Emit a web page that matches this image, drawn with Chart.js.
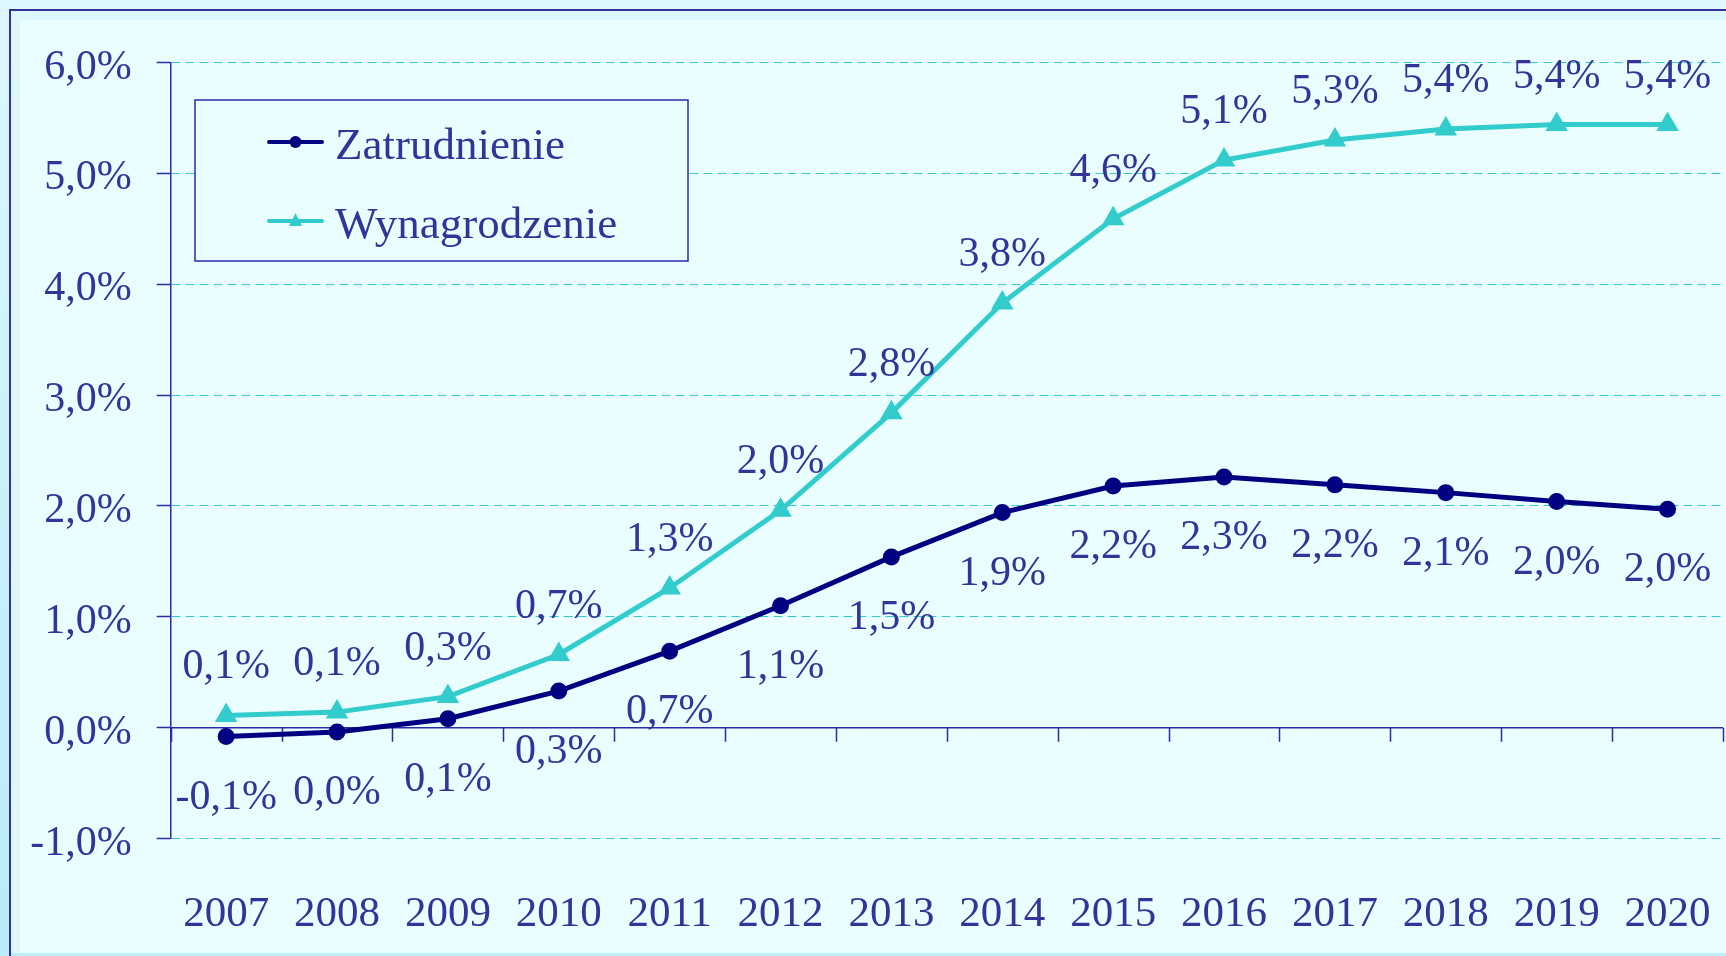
<!DOCTYPE html>
<html>
<head>
<meta charset="utf-8">
<script src="https://cdn.jsdelivr.net/npm/chart.js@4.4.1/dist/chart.umd.min.js"></script>
<style>
  html, body { margin: 0; padding: 0; background: #DDF7FC; }
  #wrap { width: 1726px; height: 956px; position: relative; }
  canvas { display: block; }
</style>
</head>
<body>
<div id="wrap"><canvas id="c" width="1726" height="956"></canvas></div>
<script>
const years = ['2007','2008','2009','2010','2011','2012','2013','2014','2015','2016','2017','2018','2019','2020'];
const zatrudnienie = [-0.08, -0.04, 0.08, 0.33, 0.69, 1.10, 1.54, 1.94, 2.18, 2.26, 2.19, 2.12, 2.04, 1.97];
const wynagrodzenie = [0.11, 0.14, 0.28, 0.66, 1.26, 1.96, 2.84, 3.83, 4.59, 5.12, 5.30, 5.40, 5.44, 5.44];
const seriesNames = ['Zatrudnienie', 'Wynagrodzenie'];
const yMin = -1, yMax = 6, yStep = 1;

const TEXT = '#333399';
const AXIS = '#2B2BA8';
const NAVY = '#000080';
const TURQ = '#33CCCC';
const FONT = "'Liberation Serif', 'Times New Roman', serif";
const PLOT_RIGHT = 1723;

function fmt(v) {
  let r = Math.round(v * 10) / 10;
  if (r === 0) r = 0;
  return r.toFixed(1).replace('.', ',') + '%';
}

const areaPlugin = {
  id: 'areaFix',
  afterLayout(chart) {
    const x = chart.scales.x;
    chart.chartArea.right = PLOT_RIGHT;
    chart.chartArea.width = PLOT_RIGHT - chart.chartArea.left;
    x.right = PLOT_RIGHT;
    x.width = PLOT_RIGHT - x.left;
    x.configure();
  }
};

const framePlugin = {
  id: 'frame',
  beforeDraw(chart) {
    const ctx = chart.ctx, W = chart.width, H = chart.height;
    ctx.save();
    ctx.fillStyle = '#DDF7FC';
    ctx.fillRect(0, 0, W, H);
    const g = ctx.createLinearGradient(0, 0, 0, H);
    g.addColorStop(0, '#DDF7FC');
    g.addColorStop(1, '#B8EBF8');
    ctx.fillStyle = g;
    ctx.fillRect(0, 0, 9, H);
    ctx.fillStyle = '#BDEDF8';
    ctx.fillRect(0, 953, W, H - 953);
    ctx.fillStyle = '#EAFEFF';
    ctx.fillRect(20, 20, W - 20, 933);
    ctx.strokeStyle = '#333399';
    ctx.lineWidth = 2;
    ctx.beginPath();
    ctx.moveTo(10, H);
    ctx.lineTo(10, 10);
    ctx.lineTo(W, 10);
    ctx.stroke();
    ctx.restore();
  }
};

const axisPlugin = {
  id: 'zeroAxis',
  beforeDatasetsDraw(chart) {
    const ctx = chart.ctx, x = chart.scales.x, y = chart.scales.y;
    const y0 = y.getPixelForValue(0);
    const n = chart.data.labels.length;
    const step = x.getPixelForValue(1) - x.getPixelForValue(0);
    const left = x.getPixelForValue(0) - step / 2;
    ctx.save();
    ctx.strokeStyle = AXIS;
    ctx.lineWidth = 1.5;
    ctx.beginPath();
    ctx.moveTo(chart.chartArea.left, y0);
    ctx.lineTo(chart.chartArea.right, y0);
    for (let i = 0; i <= n; i++) {
      const px = Math.round(left + i * step) + 0.5;
      ctx.moveTo(px, y0);
      ctx.lineTo(px, y0 + 14);
    }
    ctx.stroke();
    ctx.restore();
  }
};

const labelPlugin = {
  id: 'valueLabels',
  afterDatasetsDraw(chart) {
    const ctx = chart.ctx;
    ctx.save();
    ctx.font = '42px ' + FONT;
    ctx.fillStyle = TEXT;
    ctx.textAlign = 'center';
    ctx.textBaseline = 'middle';
    chart.data.datasets.forEach((ds, di) => {
      const meta = chart.getDatasetMeta(di);
      meta.data.forEach((pt, i) => {
        const off = ds.labelAbove ? -48 : 61;
        ctx.fillText(fmt(ds.data[i]), pt.x, pt.y + off);
      });
    });
    ctx.restore();
  }
};

const legendPlugin = {
  id: 'boxLegend',
  afterDraw(chart) {
    const ctx = chart.ctx;
    ctx.save();
    ctx.fillStyle = '#EBFEFF';
    ctx.fillRect(195, 100, 493, 161);
    ctx.strokeStyle = AXIS;
    ctx.lineWidth = 1.5;
    ctx.strokeRect(195, 100, 493, 161);
    const rows = [142, 221];
    chart.data.datasets.forEach((ds, di) => {
      const yy = rows[di];
      ctx.strokeStyle = ds.borderColor;
      ctx.lineWidth = 4;
      ctx.lineCap = 'round';
      ctx.beginPath();
      ctx.moveTo(269, yy);
      ctx.lineTo(322, yy);
      ctx.stroke();
      ctx.fillStyle = ds.borderColor;
      if (ds.pointStyle === 'triangle') {
        ctx.beginPath();
        ctx.moveTo(295.5, yy - 8);
        ctx.lineTo(302, yy + 5);
        ctx.lineTo(289, yy + 5);
        ctx.closePath();
        ctx.fill();
      } else {
        ctx.beginPath();
        ctx.arc(295.5, yy, 6, 0, Math.PI * 2);
        ctx.fill();
      }
      ctx.fillStyle = TEXT;
      ctx.font = '45px ' + FONT;
      ctx.textAlign = 'left';
      ctx.textBaseline = 'middle';
      ctx.fillText(ds.label, 335, yy + 5);
    });
    ctx.restore();
  }
};

new Chart(document.getElementById('c'), {
  type: 'line',
  data: {
    labels: years,
    datasets: [
      {
        label: seriesNames[0],
        data: zatrudnienie,
        borderColor: NAVY,
        backgroundColor: NAVY,
        borderWidth: 5,
        pointStyle: 'circle',
        pointRadius: 6,
        pointHoverRadius: 6,
        tension: 0,
        labelAbove: false
      },
      {
        label: seriesNames[1],
        data: wynagrodzenie,
        borderColor: TURQ,
        backgroundColor: TURQ,
        borderWidth: 5,
        pointStyle: 'triangle',
        pointRadius: 8,
        pointHoverRadius: 8,
        tension: 0,
        labelAbove: true
      }
    ]
  },
  options: {
    responsive: false,
    animation: false,
    events: [],
    layout: { padding: { left: 0, top: 62.5, right: 3, bottom: 0 } },
    plugins: { legend: { display: false }, tooltip: { enabled: false } },
    scales: {
      x: {
        type: 'category',
        offset: true,
        grid: { display: false, drawTicks: false },
        border: { display: false },
        ticks: { color: TEXT, font: { family: FONT, size: 43 }, padding: 50, maxRotation: 0, autoSkip: false },
        afterFit(s) { s.height = 956 - 838.5; s.paddingLeft = 0; s.paddingRight = 0; }
      },
      y: {
        min: yMin, max: yMax,
        ticks: {
          stepSize: yStep,
          color: TEXT,
          font: { family: FONT, size: 42 },
          padding: 25,
          labelOffset: 5,
          callback: v => v.toFixed(1).replace('.', ',') + '%'
        },
        grid: {
          color: TURQ,
          lineWidth: 1,
          tickColor: AXIS,
          tickLength: 14,
          tickWidth: 1.5,
          tickBorderDash: [],
          drawTicks: true
        },
        border: { display: true, color: AXIS, width: 1.5, dash: [9, 5] },
        afterFit(s) { s.width = 170.7; s.paddingTop = 0; s.paddingBottom = 0; }
      }
    }
  },
  plugins: [areaPlugin, framePlugin, axisPlugin, labelPlugin, legendPlugin]
});
</script>
</body>
</html>
